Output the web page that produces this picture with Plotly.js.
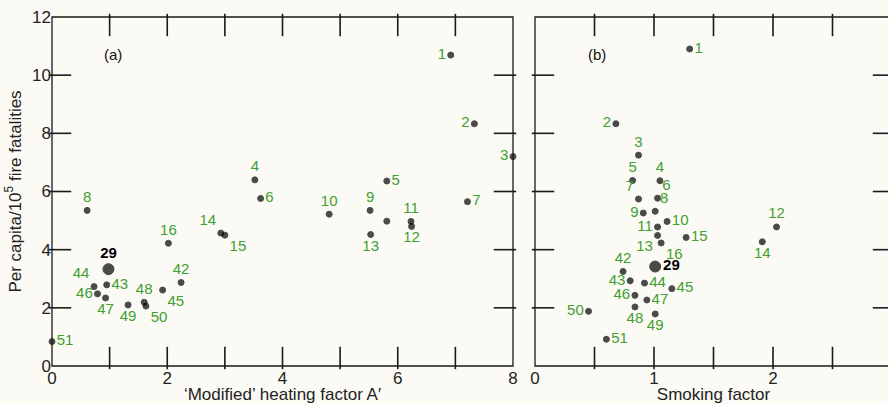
<!DOCTYPE html>
<html><head><meta charset="utf-8">
<script src="https://cdn.plot.ly/plotly-3.0.1.min.js"></script>
<style>html,body{margin:0;padding:0;overflow:hidden;background:#fcfaf5;}#chart{width:895px;height:404px;}</style>
</head><body><div id="chart"></div>
<script>
// Panel (a): 'Modified' heating factor A' vs per-capita fire fatalities
const labelsA  = ['1','2','3','4','5','6','7','8','9','10','11','12','13','14','15','16','','29','42','43','44','45','46','47','48','49','50','51'];
const heatingA = [6.92,7.33,8.00,3.52,5.81,3.62,7.21,0.61,5.52,4.81,6.23,6.24,5.53,2.93,3.00,2.02,5.81,0.98,2.24,0.95,0.73,1.92,0.79,0.93,1.60,1.32,1.63,0.00];
const fatalA   = [10.69,8.33,7.20,6.40,6.36,5.76,5.65,5.35,5.35,5.22,4.97,4.80,4.52,4.57,4.50,4.22,4.98,3.33,2.87,2.79,2.73,2.61,2.48,2.34,2.19,2.10,2.06,0.84];

// Panel (b): smoking factor vs per-capita fire fatalities
const labelsB  = ['1','2','3','4','5','6','7','8','9','10','11','12','13','14','15','16','29','42','43','44','45','46','47','48','49','50','51'];
const smokingB = [1.30,0.68,0.87,1.05,0.82,1.03,0.87,1.01,0.91,1.11,1.03,2.03,1.03,1.91,1.27,1.06,1.01,0.74,0.80,0.92,1.15,0.84,0.94,0.84,1.01,0.45,0.60];
const fatalB   = [10.90,8.33,7.25,6.37,6.38,5.77,5.74,5.32,5.26,4.97,4.78,4.78,4.49,4.27,4.42,4.23,3.42,3.25,2.93,2.85,2.66,2.43,2.27,2.03,1.79,1.88,0.92];

// Ticks and tick labels
const xTicksA = [0,1,2,3,4,5,6,7,8];
const xTextA  = ['0','','2','','4','','6','','8'];
const xTicksB = [0,0.5,1,1.5,2,2.5,3];
const xTextB  = ['0','','1','','2','','3'];
const yTicks  = [0,2,4,6,8,10,12];

// label placement (style)
const placeA = {'1':'middle left','2':'middle left','3':'middle left','4':'top center','5':'middle right','6':'middle right','7':'middle right','8':'top center','9':'top center','10':'top center','11':'top center','12':'bottom center','13':'bottom center','14':'top left','15':'bottom right','16':'top center','29':'top center','42':'top center','43':'middle right','44':'top left','45':'bottom right','46':'middle left','47':'bottom center','48':'top center','49':'bottom center','50':'bottom right','51':'middle right','':'top center'};
const placeB = {'1':'middle right','2':'middle left','3':'top center','4':'top center','5':'top center','6':'top right','7':'top left','8':'top right','9':'middle left','10':'middle right','11':'middle left','12':'top center','13':'bottom left','14':'bottom center','15':'middle right','16':'bottom right','29':'middle right','42':'top center','43':'middle left','44':'middle right','45':'middle right','46':'middle left','47':'middle right','48':'bottom center','49':'bottom center','50':'middle left','51':'middle right'};

const GREEN = '#3f9f2f';
const INK = '#1a1a1a';
const FONT = 'Liberation Sans, Arial, sans-serif';
const TL = 16; // tick length, px

const W = 895, H = 404, M = {l: 52, r: 3, t: 17, b: 38};
const domA = [0, 0.5488], domB = [0.575, 1];
const rangeA = [0, 8], rangeB = [0, 3], rangeY = [0, 12];

function mk(xs, ys, labs, place, xa, ya) {
  return {
    type: 'scatter', mode: 'markers+text', x: xs, y: ys,
    text: labs.map(l => l === '29' ? '<b>29</b>' : l),
    xaxis: xa, yaxis: ya, cliponaxis: false, hoverinfo: 'skip',
    textposition: labs.map(l => place[l]),
    textfont: {family: FONT, size: 15, color: labs.map(l => l === '29' ? '#000' : GREEN)},
    marker: {color: '#000', size: labs.map(l => l === '29' ? 11 : 6), line: {width: 1, color: '#000'}}
  };
}

// inward tick marks on all four sides, drawn as line-shaped markers centred half a tick inside the frame
function tickMarks(xa, ya, dom, xr, yr, xt, yt) {
  const pw = (W - M.l - M.r) * (dom[1] - dom[0]);
  const ph = H - M.t - M.b;
  const hx = 0.5 * TL * (xr[1] - xr[0]) / pw, hy = 0.5 * TL * (yr[1] - yr[0]) / ph;
  const X = [], Y = [], S = [];
  xt.forEach(v => { X.push(v, v); Y.push(yr[0] + hy, yr[1] - hy); S.push('line-ns', 'line-ns'); });
  yt.forEach(v => { X.push(xr[0] + hx, xr[1] - hx); Y.push(v, v); S.push('line-ew', 'line-ew'); });
  return {type: 'scatter', mode: 'markers', x: X, y: Y, xaxis: xa, yaxis: ya, cliponaxis: false,
          hoverinfo: 'skip', marker: {symbol: S, size: TL, color: INK, line: {color: INK, width: 1.6}}};
}

function ax(extra) {
  return Object.assign({
    showline: false, ticks: '', tickmode: 'array',
    showgrid: false, zeroline: false,
    tickfont: {family: FONT, size: 17, color: '#222'}
  }, extra);
}

const data = [
  tickMarks('x', 'y', domA, rangeA, rangeY, xTicksA.slice(1, -1), yTicks.slice(1, -1)),
  tickMarks('x2', 'y2', domB, rangeB, rangeY, xTicksB.slice(1, -1), yTicks.slice(1, -1)),
  mk(heatingA, fatalA, labelsA, placeA, 'x', 'y'),
  mk(smokingB, fatalB, labelsB, placeB, 'x2', 'y2')
];

const titleFont = {family: FONT, size: 17, color: '#222'};
const frame = (xa, ya) => ({type: 'rect', xref: xa + ' domain', yref: ya + ' domain', x0: 0, x1: 1, y0: 0, y1: 1,
  line: {color: INK, width: 1.3}, fillcolor: 'rgba(0,0,0,0)', layer: 'above'});

const layout = {
  width: W, height: H, margin: M,
  paper_bgcolor: '#fcfaf5', plot_bgcolor: '#fcfaf5',
  showlegend: false,
  xaxis: ax({domain: domA, range: rangeA, anchor: 'y', tickvals: xTicksA, ticktext: xTextA,
    title: {text: '\u2018Modified\u2019 heating factor A\u2032', font: titleFont, standoff: 2}}),
  yaxis: ax({domain: [0, 1], range: rangeY, anchor: 'x', tickvals: yTicks,
    title: {text: 'Per capita/10<sup>5</sup> fire fatalities', font: titleFont, standoff: 6}}),
  xaxis2: ax({domain: domB, range: rangeB, anchor: 'y2', tickvals: xTicksB, ticktext: xTextB,
    title: {text: 'Smoking factor', font: titleFont, standoff: 2}}),
  yaxis2: ax({domain: [0, 1], range: rangeY, anchor: 'x2', tickvals: yTicks, showticklabels: false}),
  shapes: [frame('x', 'y'), frame('x2', 'y2')],
  annotations: [
    {text: '(a)', xref: 'x', yref: 'y', x: 1.05, y: 10.7, showarrow: false, font: {family: FONT, size: 15, color: '#111'}},
    {text: '(b)', xref: 'x2', yref: 'y2', x: 0.52, y: 10.7, showarrow: false, font: {family: FONT, size: 15, color: '#111'}}
  ]
};

Plotly.newPlot('chart', data, layout, {staticPlot: true, displayModeBar: false});
</script>
</body></html>
